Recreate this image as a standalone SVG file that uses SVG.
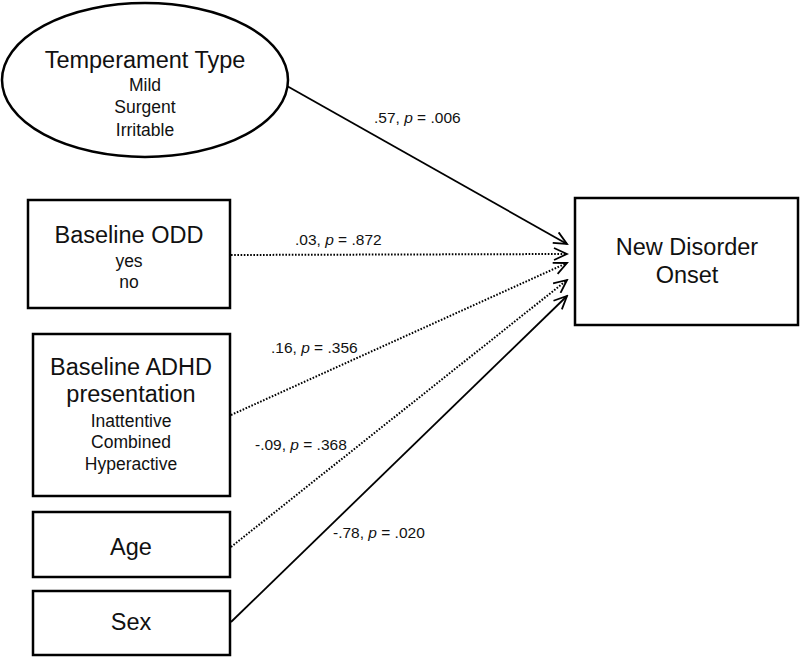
<svg xmlns="http://www.w3.org/2000/svg" width="800" height="658" viewBox="0 0 800 658">
<style>
.box{fill:#fff;stroke:#000;stroke-width:2.5}
.h{font-family:"Liberation Sans",Arial,sans-serif;font-size:23.5px;text-anchor:middle;fill:#111}
.s{font-family:"Liberation Sans",Arial,sans-serif;font-size:17.5px;text-anchor:middle;fill:#111}
.lbl{font-family:"Liberation Sans",Arial,sans-serif;font-size:15.5px;fill:#111}
.solid{fill:none;stroke:#000;stroke-width:1.8;marker-end:url(#ah)}
.dot{fill:none;stroke:#000;stroke-width:2;stroke-dasharray:1.6 1.6;marker-end:url(#ah)}
</style>
<defs>
<marker id="ah" markerWidth="16" markerHeight="14" refX="14" refY="7" orient="auto" markerUnits="userSpaceOnUse">
<path d="M1,1 L14,7 L1,13" fill="none" stroke="#000" stroke-width="1.8"/>
</marker>
</defs>
<rect width="800" height="658" fill="#fff"/>
<g id="connectors">
<line class="solid" x1="287" y1="86" x2="567" y2="244"/>
<line class="dot" x1="231" y1="255" x2="567" y2="254"/>
<line class="dot" x1="231" y1="415" x2="567" y2="263"/>
<line class="dot" x1="231" y1="547" x2="567" y2="280"/>
<line class="solid" x1="231" y1="622" x2="567" y2="296"/>
<text class="lbl" x="374" y="123">.57, <tspan font-style="italic">p</tspan> = .006</text>
<text class="lbl" x="295" y="245">.03, <tspan font-style="italic">p</tspan> = .872</text>
<text class="lbl" x="271" y="353">.16, <tspan font-style="italic">p</tspan> = .356</text>
<text class="lbl" x="255" y="450">-.09, <tspan font-style="italic">p</tspan> = .368</text>
<text class="lbl" x="333" y="538">-.78, <tspan font-style="italic">p</tspan> = .020</text>
</g>
<g id="temperament">
<ellipse class="box" cx="145" cy="80" rx="143" ry="77"/>
<text class="h" x="145" y="68">Temperament Type</text>
<text class="s" x="145" y="91">Mild</text>
<text class="s" x="145" y="113">Surgent</text>
<text class="s" x="145" y="136">Irritable</text>
</g>
<g id="odd">
<rect class="box" x="28" y="200" width="202" height="108"/>
<text class="h" x="129" y="243">Baseline ODD</text>
<text class="s" x="129" y="267">yes</text>
<text class="s" x="129" y="288">no</text>
</g>
<g id="adhd">
<rect class="box" x="33" y="334" width="197" height="162"/>
<text class="h" x="131" y="375">Baseline ADHD</text>
<text class="h" x="131" y="402">presentation</text>
<text class="s" x="131" y="427">Inattentive</text>
<text class="s" x="131" y="448">Combined</text>
<text class="s" x="131" y="470">Hyperactive</text>
</g>
<g id="age">
<rect class="box" x="33" y="512" width="197" height="65"/>
<text class="h" x="131" y="555">Age</text>
</g>
<g id="sex">
<rect class="box" x="33" y="591" width="197" height="64"/>
<text class="h" x="131" y="630">Sex</text>
</g>
<g id="onset">
<rect class="box" x="575" y="198" width="223" height="127"/>
<text class="h" x="687" y="255">New Disorder</text>
<text class="h" x="687" y="283">Onset</text>
</g>
</svg>
